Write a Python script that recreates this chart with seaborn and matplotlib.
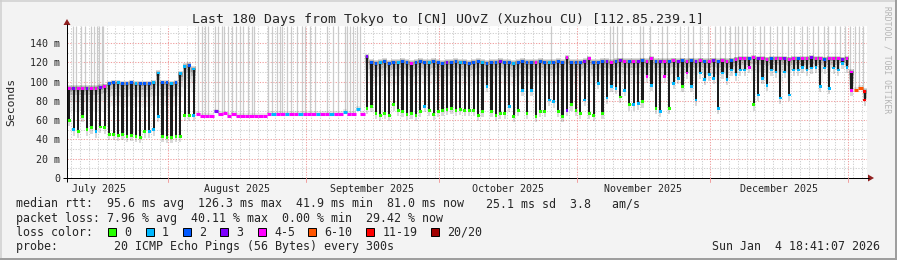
import numpy as np
import pandas as pd
import matplotlib
matplotlib.use("Agg")
import matplotlib.pyplot as plt
import seaborn as sns
from matplotlib.patches import Polygon, Rectangle

# ---------------- data ----------------
TITLE = "Last 180 Days from Tokyo to [CN] UOvZ (Xuzhou CU) [112.85.239.1]"
Y_TICKS = [0, 20, 40, 60, 80, 100, 120, 140]
Y_TICK_LABELS = ["0", "20 m", "40 m", "60 m", "80 m", "100 m", "120 m", "140 m"]
MONTH_STARTS = ["2025-07-01", "2025-08-01", "2025-09-01", "2025-10-01",
                "2025-11-01", "2025-12-01", "2026-01-01"]
MONTH_LABELS = ["July 2025", "August 2025", "September 2025", "October 2025",
                "November 2025", "December 2025"]
START = "2025-07-09 07:00"
N_DAYS = 180

LOSS_LABELS = ["0", "1", "2", "3", "4-5", "6-10", "11-19", "20/20"]
LOSS_COLORS = ["#26ff00", "#00b8ff", "#0059ff", "#7e00ff",
               "#ff00ff", "#ff5500", "#ff0000", "#a10000"]

# daily upper median level (ms)
median_hi = [
    93, 93, 93, 93, 93, 93, 93, 94, 95,
    98, 99, 99, 98, 98, 99, 98, 98, 98, 98, 99,
    109,
    99, 99, 98, 99,
    108,
    116, 117, 113,
    66, 64.5, 64.5, 64.5, 69, 66, 67, 64.5, 66, 64.5, 64.5, 64.5, 64.5, 64.5, 64.5, 64.5,
    66, 66, 66, 66, 66, 66, 66, 66, 66, 66, 66, 66, 66, 66, 66, 66, 66, 68.5, 66, 66, 72, 66,
    126, 120, 119, 120, 121, 119, 120, 120, 121, 120, 119, 120, 121, 120, 120, 121, 120, 119,
    120, 120, 121, 120, 120, 119,
    120, 121, 120, 119, 120, 120, 121, 120, 120, 119, 120, 121, 120, 120, 120, 121, 120, 120,
    120, 121, 120, 125, 120, 120, 120, 121, 124, 120, 120, 121,
    121, 120, 121, 122, 121, 121, 121, 121, 122, 121, 124, 121, 121, 121, 121, 122, 121, 122,
    121, 122, 121, 122, 121, 121, 122, 121, 122, 121, 122, 123,
    124, 124, 124, 125, 124, 124, 123, 124, 124, 124, 124, 123, 124, 124, 124, 124, 125, 124,
    124, 123, 124, 124, 124, 123, 124,
    110, 91, 93, 90,
]

# daily lower extent of the dense smoke (ms)
median_lo = [
    60, 50, 48, 64, 50, 52, 48, 53, 52, 45, 45, 44, 45, 43, 44, 43, 42, 48, 48, 50,
    64, 43, 42, 42, 43, 43, 65, 65, 65,
    66, 64.5, 64.5, 64.5, 69, 66, 67, 64.5, 66, 64.5, 64.5, 64.5, 64.5, 64.5, 64.5, 64.5,
    66, 66, 66, 66, 66, 66, 66, 66, 66, 66, 66, 66, 66, 66, 66, 66, 66, 68.5, 66, 66, 72, 66,
    72, 74, 67, 65, 67, 65, 76, 70, 69, 66, 67, 65, 69, 74, 70, 66, 69, 70, 71, 72, 70, 71, 70, 70,
    70, 65, 69, 95, 69, 65, 67, 67, 74, 64, 70, 91, 67, 91, 64, 69, 69, 81, 79, 69, 64, 70, 76,
    70, 67, 81, 67, 65, 98, 67,
    83, 95, 93, 84, 91, 76, 76, 77, 79, 105, 96, 72, 69, 105, 72, 98, 103, 95, 109, 95, 81,
    109, 102, 107, 103, 72, 109, 102, 112, 107,
    112, 112, 115, 76, 86, 103, 96, 112, 110, 83, 110, 86, 112, 112, 115, 112, 114, 115, 95,
    114, 93, 114, 112, 119, 115,
    91, 91, 93, 81,
]

# loss class (index into LOSS_LABELS) of the upper median
top_loss = [
    4, 3, 4, 4, 3, 4, 4, 3, 4,
    2, 2, 1, 2, 2, 2, 1, 2, 2, 2, 1,
    1,
    2, 2, 1, 2,
    1,
    1, 2, 1,
    4, 4, 4, 4, 3, 4, 4, 4, 4, 4, 4, 4, 4, 4, 4, 4,
    4, 1, 4, 4, 1, 4, 4, 1, 4, 4, 4, 1, 4, 4, 1, 4, 4, 1, 4, 4, 1, 4,
    3, 2, 2, 1, 2, 2, 2, 1, 2, 2, 4, 2, 2, 2, 1, 2, 2, 2, 3, 2, 2, 1, 2, 2,
    2, 2, 1, 2, 2, 2, 3, 2, 2, 1, 2, 2, 2, 2, 4, 2, 2, 1, 2, 2, 2, 4, 2, 2, 2, 3, 4, 2, 2, 2,
    3, 4, 2, 3, 4, 2, 4, 3, 2, 4, 4, 2, 3, 4, 2, 4, 3, 2, 4, 2, 3, 4, 2, 4, 3, 2, 4, 4, 2, 4,
    4, 4, 2, 4, 3, 4, 4, 2, 4, 4, 3, 4, 4, 2, 4, 4, 3, 4, 4, 2, 4, 4, 4, 3, 4,
    4, 5, 5, 6,
]

# loss class of the lower median
low_loss = [
    0, 1, 0, 0, 0, 0, 1, 0, 0, 0, 0, 0, 0, 0, 0, 0, 0, 0, 1, 1, 1, 0, 0, 0, 0, 0, 0, 0, 1,
    0, 0, 0, 0, 0, 0, 0, 0, 0, 0, 0, 0, 0, 0, 0, 0, 0, 0, 0,
    0, 0, 0, 0, 0, 0, 0, 0, 0, 0, 0, 0, 0, 0, 0, 0, 0, 0, 0,
    0, 0, 0, 0, 0, 0, 0, 0, 0, 0, 0, 0, 0, 1, 0, 0, 0, 0, 0, 0, 0, 0, 0, 0,
    0, 0, 0, 1, 0, 0, 0, 0, 1, 0, 0, 1, 0, 1, 0, 0, 0, 1, 1, 0, 0, 3, 0, 0, 0, 1, 0, 0, 1, 0,
    1, 1, 1, 0, 1, 0, 1, 1, 0, 4, 1, 0, 1, 4, 0, 1, 1, 0, 4, 1, 1, 1, 1, 1, 1, 1, 1, 1, 1, 1,
    1, 1, 4, 0, 1, 1, 1, 1, 1, 1, 1, 1, 1, 1, 1, 1, 1, 1, 1, 1, 1, 1, 1, 1, 1,
    4, 5, 5, 6,
]

# days where single pings shot above the top of the chart
spike_days = [
    1.3, 2.0, 3.1, 4.1, 5.3, 6.1, 6.8, 7.3, 7.8, 8.2,
    29.5, 30.4, 31.1, 31.7, 33.3, 34.0, 34.9, 35.3, 36.2, 37.1, 38.0, 38.9, 39.6, 40.7,
    41.6, 42.1, 45.2, 46.1, 47.3, 47.9, 48.4, 49.5, 50.4, 51.8, 52.9, 53.6, 54.7, 55.8,
    58.5, 59.9, 61.0, 62.5, 63.0, 63.7, 64.4, 65.3, 65.9,
    108.9,
    122.2, 122.9, 123.8, 124.9, 128.9, 129.6, 131.2, 133.9, 135.0, 137.9, 139.7, 140.9,
    142.4, 144.2, 145.8, 146.9, 148.0, 149.2, 150.3, 151.0, 151.9, 153.0, 154.4, 155.9,
    156.8, 158.2, 159.8, 160.9, 162.2, 163.6, 165.4, 166.5, 167.9, 169.0, 170.3, 171.2,
    172.8, 173.9, 175.0, 176.2, 177.3, 178.2, 179.1,
]

RTT_LINE_A = "median rtt:  95.6 ms avg  126.3 ms max  41.9 ms min  81.0 ms now"
RTT_LINE_B = "25.1 ms sd  3.8   am/s"
LOSS_LINE = "packet loss: 7.96 % avg  40.11 % max  0.00 % min  29.42 % now"
LOSS_COLOR_TITLE = "loss color:"
PROBE_LINE = "probe:        20 ICMP Echo Pings (56 Bytes) every 300s"
DATE_LINE = "Sun Jan  4 18:41:07 2026"
WATERMARK = "RRDTOOL / TOBI OETIKER"
Y_LABEL = "Seconds"

# ---------------- figure ----------------
sns.set_style("white")
MONO = ["DejaVu Sans Mono"]
plt.rcParams["font.family"] = MONO

W_PX, H_PX = 897, 260
fig = plt.figure(figsize=(W_PX / 100, H_PX / 100), dpi=100)
fig.patch.set_facecolor("#f3f3f3")

PL, PR, PT, PB = 67, 867, 26, 178
YMAX = (PB - PT) / 0.964
ax = fig.add_axes([PL / W_PX, 1 - PB / H_PX, (PR - PL) / W_PX, (PB - PT) / H_PX])
ax.set_facecolor("white")
ax.set_xlim(0, N_DAYS)
ax.set_ylim(0, YMAX)
for s in ax.spines.values():
    s.set_visible(False)

start = pd.Timestamp(START)
mpos = ((pd.to_datetime(MONTH_STARTS) - start) / pd.Timedelta(days=1)).to_numpy()
mid = mpos[:-1] + np.diff(mpos) / 2

# grid
dot = (0, (1.2, 1.4))
for v in np.arange(10, YMAX, 10):
    major = (int(round(v)) % 20 == 0)
    ax.axhline(v, color="#f0a0a0" if major else "#d0d0d0", lw=0.75, ls=dot, zorder=0.5)
for d in np.arange(0.9, N_DAYS, 2.0):
    if np.min(np.abs(mpos - d)) > 0.6:
        ax.axvline(d, color="#d0d0d0", lw=0.75, ls=dot, zorder=0.5)
for d in mpos:
    if 0 < d < N_DAYS:
        ax.axvline(d, color="#f0a0a0", lw=0.75, ls=dot, zorder=0.6)

days = np.arange(N_DAYS)
xc = days + 0.5
hi = np.array(median_hi, dtype=float)
lo = np.array(median_lo, dtype=float)
bar = (hi - lo) > 1.5
flat = ~bar

# spikes to top
sd = np.array(spike_days)
base = hi[np.clip(sd.astype(int), 0, N_DAYS - 1)]
ax.vlines(sd, base, YMAX, color="#cacaca", lw=0.9, zorder=1)

# smoke around the upper level
for dn, up, a in [(24, 3, 0.06), (14, 3, 0.09), (7, 2, 0.13), (3, 1, 0.18)]:
    bot = np.maximum(hi - dn, lo)
    ax.bar(xc[bar], (hi + up - bot)[bar], bottom=bot[bar], width=1.0,
           color="black", alpha=a, linewidth=0, antialiased=False, zorder=1.5)
ax.bar(xc[flat], np.full(flat.sum(), 3.0), bottom=hi[flat], width=1.0,
       color="black", alpha=0.08, linewidth=0, antialiased=False, zorder=1.5)
# tail below the lower level
ax.bar(xc[bar], np.full(bar.sum(), 6.0), bottom=(lo - 6)[bar], width=0.5,
       color="black", alpha=0.15, linewidth=0, zorder=1.6)
# dense black core
ax.bar(xc[bar], (hi - lo)[bar], bottom=lo[bar], width=0.5,
       color="#1c1c1c", linewidth=0, zorder=2)

# flat median line
tl = np.array(top_loss)
ax.hlines(hi[flat], days[flat], days[flat] + 1,
          colors=[LOSS_COLORS[k] for k in tl[flat]], lw=2.2, zorder=3)

# median dots
ll = np.array(low_loss)
dots = pd.DataFrame({
    "day": np.concatenate([xc[bar], xc[bar]]),
    "ms": np.concatenate([hi[bar], lo[bar]]),
    "loss": [LOSS_LABELS[k] for k in np.concatenate([tl[bar], ll[bar]])],
})
sns.scatterplot(data=dots, x="day", y="ms", hue="loss",
                palette=dict(zip(LOSS_LABELS, LOSS_COLORS)), marker="s", s=4,
                linewidth=0, legend=False, ax=ax, zorder=4)

ax.set_xlabel("")
ax.set_ylabel("")
ax.set_yticks(Y_TICKS, Y_TICK_LABELS)
ax.set_xticks(mid, MONTH_LABELS)
ax.tick_params(axis="y", length=0, pad=5, labelsize=7.2)
ax.tick_params(axis="x", length=0, pad=4, labelsize=7.2)
for t in ax.get_xticklabels() + ax.get_yticklabels():
    t.set_fontfamily(MONO)

# ---------------- overlay in pixel coordinates ----------------
ov = fig.add_axes([0, 0, 1, 1], zorder=5)
ov.set_xlim(0, W_PX)
ov.set_ylim(H_PX, 0)
ov.axis("off")

PX = 0.72
ov.plot([63, 869], [PB, PB], color="black", lw=PX, solid_capstyle="butt")
ov.plot([PL, PL], [182, 24], color="black", lw=PX, solid_capstyle="butt")
ov.add_patch(Polygon([[868, 174.5], [874, 178], [868, 181.5]], closed=True,
                     facecolor="#902020", edgecolor="none"))
ov.add_patch(Polygon([[63.5, 25], [67, 19], [70.5, 25]], closed=True,
                     facecolor="#902020", edgecolor="none"))
for d in mpos:
    if 0 < d < N_DAYS:
        xp = PL + d * (PR - PL) / N_DAYS
        ov.plot([xp, xp], [PB, 182], color="#f0a0a0", lw=PX)

# frame shading
ov.plot([0, W_PX], [0.8, 0.8], color="#cfcfcf", lw=1.5 * PX)
ov.plot([0.8, 0.8], [0, H_PX], color="#cfcfcf", lw=1.5 * PX)
ov.plot([0, W_PX], [258.5, 258.5], color="#9e9e9e", lw=3 * PX)
ov.plot([895.8, 895.8], [0, H_PX], color="#9e9e9e", lw=2 * PX)

ov.text(448, 19.5, TITLE, fontsize=9.5, family=MONO, ha="center", va="center")
ov.text(11, 102, Y_LABEL, fontsize=8.2, family=MONO, rotation=90,
        ha="center", va="center")
ov.text(887, 60, WATERMARK, fontsize=5.8, family=MONO, rotation=270,
        ha="center", va="center", color="#b4b4b4")

FS = 8.4
ov.text(16, 204, RTT_LINE_A, fontsize=FS, family=MONO, va="center")
ov.text(486, 204, RTT_LINE_B, fontsize=FS, family=MONO, va="center")
ov.text(16, 218.5, LOSS_LINE, fontsize=FS, family=MONO, va="center")
ov.text(16, 232, LOSS_COLOR_TITLE, fontsize=FS, family=MONO, va="center")
box_x = [108, 145.5, 183, 220, 257.5, 308, 366, 431]
for bx, lab, col in zip(box_x, LOSS_LABELS, LOSS_COLORS):
    ov.add_patch(Rectangle((bx, 227.8), 8, 8, facecolor=col,
                           edgecolor="black", lw=0.7))
    ov.text(bx + 16.5, 232, lab, fontsize=FS, family=MONO, va="center")
ov.text(16, 246.5, PROBE_LINE, fontsize=FS, family=MONO, va="center")
ov.text(880, 246.5, DATE_LINE, fontsize=FS, family=MONO, va="center", ha="right")

fig.savefig("out.png", dpi=100, facecolor=fig.get_facecolor())
